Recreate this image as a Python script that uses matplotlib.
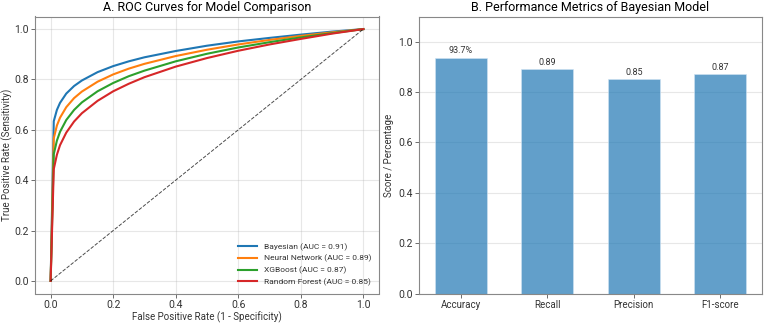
import matplotlib.pyplot as plt
import numpy as np

plt.rcParams['font.family'] = ['Roboto', 'DejaVu Sans']

# ROC curve points
fpr = [0.0, 0.01, 0.02, 0.03, 0.05, 0.075, 0.1, 0.15, 0.2, 0.25, 0.3,
       0.4, 0.5, 0.6, 0.7, 0.8, 0.9, 1.0]
tpr_bayes = [0.0, 0.634, 0.679, 0.707, 0.744, 0.774, 0.796, 0.829, 0.853, 0.872, 0.888,
             0.913, 0.934, 0.951, 0.965, 0.978, 0.990, 1.0]
tpr_nn = [0.0, 0.566, 0.617, 0.648, 0.690, 0.726, 0.752, 0.791, 0.820, 0.843, 0.862,
          0.893, 0.918, 0.939, 0.957, 0.973, 0.987, 1.0]
tpr_xgb = [0.0, 0.503, 0.557, 0.592, 0.639, 0.679, 0.709, 0.753, 0.786, 0.813, 0.835,
           0.872, 0.902, 0.927, 0.948, 0.967, 0.984, 1.0]
tpr_rf = [0.0, 0.444, 0.501, 0.539, 0.589, 0.633, 0.666, 0.715, 0.753, 0.783, 0.809,
          0.851, 0.885, 0.914, 0.939, 0.961, 0.982, 1.0]
model_names = ['Bayesian', 'Neural Network', 'XGBoost', 'Random Forest']
aucs = [0.91, 0.89, 0.87, 0.85]
colors = ['#1f77b4', '#ff7f0e', '#2ca02c', '#d62728']

# performance metrics
metrics = ['Accuracy', 'Recall', 'Precision', 'F1-score']
scores = [0.937, 0.89, 0.85, 0.87]
score_labels = ['93.7%', '0.89', '0.85', '0.87']

fig = plt.figure(figsize=(7.67, 3.23), dpi=100)
ax1 = fig.add_axes([35 / 767, 1 - 293.5 / 323, 344 / 767, 277 / 323])
ax2 = fig.add_axes([419 / 767, 1 - 293.5 / 323, 343 / 767, 277 / 323])

# Panel A
for tpr, name, auc, c in zip([tpr_bayes, tpr_nn, tpr_xgb, tpr_rf], model_names, aucs, colors):
    ax1.plot(fpr, tpr, color=c, lw=1.5, label=f'{name} (AUC = {auc:.2f})')
ax1.plot([0, 1], [0, 1], 'k--', lw=0.7, alpha=0.7)
ax1.set_xlim(-0.05, 1.05)
ax1.set_ylim(-0.05, 1.05)
ax1.set_xlabel('False Positive Rate (1 - Specificity)', fontsize=7, labelpad=1, color='#333333')
ax1.set_ylabel('True Positive Rate (Sensitivity)', fontsize=7, labelpad=1, color='#333333')
ax1.set_title('A. ROC Curves for Model Comparison', fontsize=9, pad=4)
ax1.grid(True, alpha=0.3)
leg = ax1.legend(loc='lower right', fontsize=6, frameon=False, handlelength=2.3)
for t in leg.get_texts():
    t.set_color('#333333')

# Panel B
x = np.arange(len(metrics))
bars = ax2.bar(x, scores, width=0.6, color='#1f77b4', alpha=0.7, edgecolor='#cfe3f3', linewidth=0.6)
for b, lab in zip(bars, score_labels):
    ax2.text(b.get_x() + b.get_width() / 2, b.get_height() + 0.01, lab,
             ha='center', va='bottom', fontsize=6.5, color='#333333')
ax2.set_xticks(x)
ax2.set_xticklabels(metrics)
ax2.set_ylim(0, 1.1)
ax2.set_ylabel('Score / Percentage', fontsize=7, labelpad=3, color='#333333')
ax2.set_title('B. Performance Metrics of Bayesian Model', fontsize=9, pad=4)
ax2.grid(True, axis='y', alpha=0.3)
ax2.set_axisbelow(True)

for ax in (ax1, ax2):
    ax.tick_params(labelsize=7.5, length=3, width=0.6, color='#555555', pad=1.5,
                   labelcolor='#333333')
    for s in ax.spines.values():
        s.set_color('#888888')
        s.set_linewidth(0.8)
ax2.tick_params(axis='x', labelsize=7)

fig.savefig('out.png', dpi=100)
